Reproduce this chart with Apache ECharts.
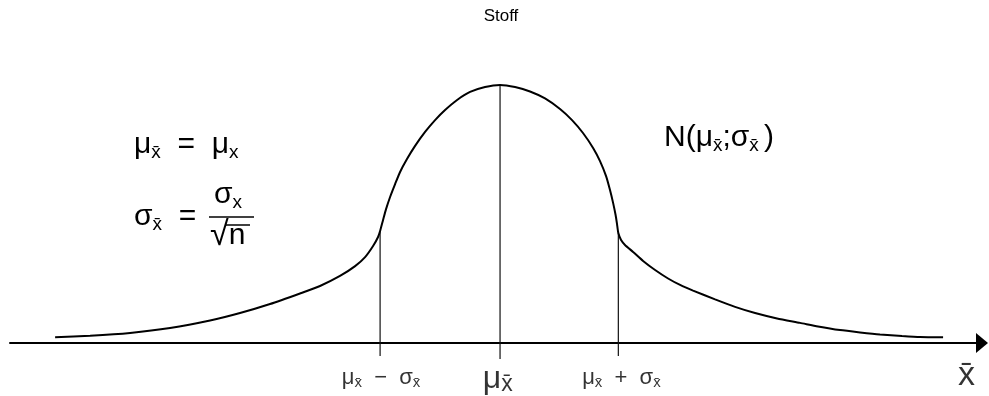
<!DOCTYPE html>
<html><head><meta charset="utf-8">
<script src="https://cdn.jsdelivr.net/npm/echarts@6/dist/echarts.min.js"></script>
<style>html,body{margin:0;padding:0;background:#fff}#c{width:989px;height:396px}</style>
</head><body><div id="c"></div>
<script>
// ---- data (x in sigma units from the mean, y relative to peak height) ----
const chartTitle = 'Stoff';
const curveX = [-3.739,-3.445,-3.109,-2.773,-2.437,-2.185,-1.933,-1.681,-1.513,-1.345,-1.218,-1.134,-1.067,-1.025,-1.008,
  -0.983,-0.958,-0.924,-0.882,-0.840,-0.782,-0.714,-0.630,-0.546,-0.462,-0.361,-0.252,-0.126,0,
  0.126,0.252,0.378,0.504,0.605,0.697,0.782,0.840,0.891,0.924,0.950,0.971,0.983,0.994,
  1.017,1.050,1.118,1.202,1.303,1.412,1.513,1.622,1.807,1.975,2.143,2.328,2.521,2.672,2.857,3.025,3.193,3.378,3.529,3.723];
const curveY = [0.022,0.028,0.039,0.058,0.087,0.116,0.151,0.192,0.221,0.260,0.298,0.333,0.376,0.411,0.434,
  0.477,0.519,0.566,0.616,0.663,0.713,0.764,0.818,0.864,0.903,0.942,0.973,0.992,1.0,
  0.992,0.975,0.948,0.907,0.864,0.814,0.756,0.705,0.647,0.593,0.543,0.496,0.461,0.426,
  0.399,0.380,0.353,0.318,0.283,0.250,0.225,0.203,0.169,0.140,0.116,0.095,0.078,0.064,0.050,0.041,0.033,0.027,0.023,0.022];
const guideX = [-1.008, 0, 0.994];
const guideTop = [0.434, 1.0, 0.426];
const guideBottom = [-0.05, -0.062, -0.05];
const labelX = [-1.0, -0.02, 1.02, 3.92];
const labelY = [-0.135, -0.14, -0.135, -0.125];
const labelText = ['{m|μ}{s|x̄}{m|  −  σ}{s|x̄}', '{b|μ}{bs|x̄}', '{m|μ}{s|x̄}{m|  +  σ}{s|x̄}', '{xb|x̄}'];

const F = 'Liberation Sans, Arial, sans-serif';
const series = [];
series.push({
  type: 'line', data: curveX.map((x, i) => [x, curveY[i]]), smooth: 0.2,
  symbol: 'none', lineStyle: { color: '#000', width: 2 }, z: 3, silent: true
});
guideX.forEach((x, i) => {
  series.push({
    type: 'line', data: [[x, guideBottom[i]], [x, guideTop[i]]], symbol: 'none',
    lineStyle: { color: '#111', width: 1.2 }, z: 2, silent: true
  });
});
series.push({
  type: 'scatter', symbolSize: 0, silent: true,
  data: labelX.map((x, i) => [x, labelY[i]]),
  label: {
    show: true, position: 'inside', color: '#000',
    formatter: p => labelText[p.dataIndex],
    rich: {
      m: { fontSize: 22, fontFamily: F, lineHeight: 26, color: '#000' },
      s: { fontSize: 15, fontFamily: F, lineHeight: 10, verticalAlign: 'bottom', color: '#000' },
      b: { fontSize: 32, fontFamily: F, lineHeight: 34, color: '#000' },
      bs: { fontSize: 23, fontFamily: F, lineHeight: 14, verticalAlign: 'bottom', color: '#000' },
      xb: { fontSize: 34, fontFamily: F, lineHeight: 36, color: '#000' }
    }
  }
});

const richF = {
  m: { fontSize: 30, fontFamily: F, lineHeight: 34, color: '#000' },
  r: { fontSize: 34, fontFamily: F, lineHeight: 34, color: '#000' },
  s: { fontSize: 19, fontFamily: F, lineHeight: 12, verticalAlign: 'bottom', color: '#000' }
};

const chart = echarts.init(document.getElementById('c'));
chart.setOption({
  animation: false,
  backgroundColor: '#fff',
  title: { text: chartTitle, left: 496, top: 3, textAlign: 'center',
    textStyle: { fontSize: 17, fontWeight: 'normal', fontFamily: F, color: '#000' } },
  grid: { left: 10, right: 7, top: 85, bottom: 1.4 },
  xAxis: { type: 'value', min: -4.118, max: 4.05,
    axisLine: { onZero: true, symbol: ['none', 'triangle'], symbolSize: [20, 12], lineStyle: { color: '#000', width: 2 } },
    axisTick: { show: false }, axisLabel: { show: false }, splitLine: { show: false } },
  yAxis: { type: 'value', min: -0.2, max: 1, show: false, splitLine: { show: false } },
  series: series,
  graphic: [
    { type: 'text', x: 134, y: 128, style: { text: '{m|μ}{s|x̄}{m|  =  μ}{s|x}', rich: richF } },
    { type: 'text', x: 134, y: 200, style: { text: '{m|σ}{s|x̄}{m|  =}', rich: richF } },
    { type: 'text', x: 214, y: 178, style: { text: '{m|σ}{s|x}', rich: richF } },
    { type: 'line', shape: { x1: 209, y1: 217, x2: 254, y2: 217 }, style: { stroke: '#000', lineWidth: 1.5 } },
    { type: 'text', x: 210, y: 219, style: { text: '{r|√}{m|n}', rich: richF } },
    { type: 'line', shape: { x1: 226, y1: 225, x2: 250, y2: 225 }, style: { stroke: '#000', lineWidth: 1.5 } },
    { type: 'text', x: 664, y: 121, style: { text: '{m|N(μ}{s|x̄}{m|;σ}{s|x̄ }{m|)}', rich: richF } }
  ]
});
</script></body></html>
